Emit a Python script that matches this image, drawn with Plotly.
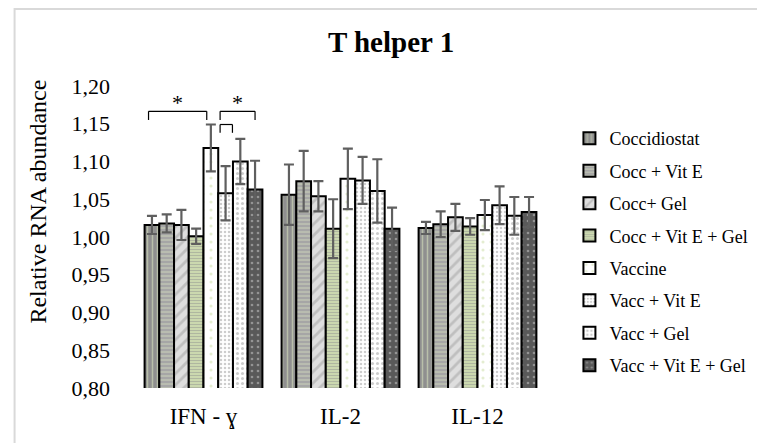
import plotly.graph_objects as go

categories = ["IFN - ɣ", "IL-2", "IL-12"]
series_names = ["Coccidiostat", "Cocc + Vit E", "Cocc+ Gel", "Cocc + Vit E + Gel",
                "Vaccine", "Vacc + Vit E", "Vacc + Gel", "Vacc + Vit E + Gel"]

coccidiostat = [1.016, 1.056, 1.012]
cocc_vite = [1.018, 1.074, 1.017]
cocc_gel = [1.016, 1.054, 1.026]
cocc_vite_gel = [1.001, 1.011, 1.014]
vaccine = [1.118, 1.077, 1.029]
vacc_vite = [1.058, 1.075, 1.042]
vacc_gel = [1.100, 1.061, 1.028]
vacc_vite_gel = [1.063, 1.011, 1.033]

err_coccidiostat = [0.012, 0.040, 0.008]
err_cocc_vite = [0.012, 0.040, 0.017]
err_cocc_gel = [0.020, 0.020, 0.018]
err_cocc_vite_gel = [0.010, 0.039, 0.011]
err_vaccine = [0.031, 0.040, 0.020]
err_vacc_vite = [0.036, 0.031, 0.025]
err_vacc_gel = [0.030, 0.042, 0.025]
err_vacc_vite_gel = [0.038, 0.028, 0.020]

y_ticks = [0.80, 0.85, 0.90, 0.95, 1.00, 1.05, 1.10, 1.15, 1.20]

values = [coccidiostat, cocc_vite, cocc_gel, cocc_vite_gel,
          vaccine, vacc_vite, vacc_gel, vacc_vite_gel]
errors = [err_coccidiostat, err_cocc_vite, err_cocc_gel, err_cocc_vite_gel,
          err_vaccine, err_vacc_vite, err_vacc_gel, err_vacc_vite_gel]

styles = [
    dict(bg="#8f8f8f", fg="#e3efc6", shape="|", size=5, sol=0.3),
    dict(bg="#a6a6a6", fg="#e3efc6", shape="-", size=4, sol=0.3),
    dict(bg="#dedede", fg="#a0a0a0", shape="/", size=8, sol=0.35),
    dict(bg="#d3e2b4", fg="#8c8c8c", shape="-", size=3, sol=0.5),
    dict(bg="#ffffff", fg="#c9dba3", shape=".", size=8, sol=0.12),
    dict(bg="#ffffff", fg="#9a9a9a", shape=".", size=4, sol=0.3),
    dict(bg="#ffffff", fg="#9a9a9a", shape=".", size=5, sol=0.3),
    dict(bg="#595959", fg="#d0d0d0", shape=".", size=6, sol=0.15),
]

FONT = "Liberation Serif, Times New Roman, serif"

fig = go.Figure()
for i, name in enumerate(series_names):
    s = styles[i]
    fig.add_trace(go.Bar(
        x=categories, y=values[i], name=name,
        legendgroup=name,
        marker=dict(color=s["bg"], line=dict(color="#000000", width=2),
                    pattern=dict(shape=s["shape"], fgcolor=s["fg"], bgcolor=s["bg"],
                                 size=s["size"], solidity=s["sol"])),
        error_y=dict(type="data", array=errors[i], color="#5f5f5f", thickness=2.2, width=5),
    ))

# significance brackets (category-index coordinates)
n = len(series_names)
bargap = 0.14
bw = (1 - bargap) / n
def bar_x(cat, k):
    return cat - (1 - bargap) / 2 + bw * (k + 0.5)

brackets = [
    (bar_x(0, 0) - 0.025, bar_x(0, 4) - 0.03, 1.1665, 1.155),
    (bar_x(0, 5) - 0.04, bar_x(0, 7) + 0.0, 1.1665, 1.155),
    (bar_x(0, 5) - 0.04, bar_x(0, 5) + 0.05, 1.149, 1.138),
]
shapes = []
for x0, x1, ytop, ybot in brackets:
    for (a, b, c, d) in [(x0, ybot, x0, ytop), (x0, ytop, x1, ytop), (x1, ytop, x1, ybot)]:
        shapes.append(dict(type="line", xref="x", yref="y", x0=a, y0=b, x1=c, y1=d,
                           line=dict(color="#000000", width=1.2)))
# outer chart border
shapes.append(dict(type="rect", xref="paper", yref="paper", x0=-0.293, x1=2, y0=-1, y1=1.255,
                   line=dict(color="#d9d9d9", width=2), fillcolor="rgba(0,0,0,0)", layer="below"))

annotations = [
    dict(x=(brackets[0][0] + brackets[0][1]) / 2, y=1.1786, xref="x", yref="y", text="*",
         showarrow=False, yanchor="middle", font=dict(family=FONT, size=22, color="#000")),
    dict(x=(brackets[1][0] + brackets[1][1]) / 2, y=1.1786, xref="x", yref="y", text="*",
         showarrow=False, yanchor="middle", font=dict(family=FONT, size=22, color="#000")),
    dict(x=-0.237, y=0.616, xref="paper", yref="paper", text="Relative RNA abundance",
         textangle=-90, showarrow=False, xanchor="center", yanchor="middle",
         font=dict(family=FONT, size=24, color="#000")),
]

fig.update_layout(
    width=757, height=435,
    margin=dict(l=127, r=200, t=78, b=55),
    paper_bgcolor="white", plot_bgcolor="white",
    separators=",.",
    barmode="group", bargap=bargap, bargroupgap=0,
    title=dict(text="<b>T helper 1</b>", x=0.623, xanchor="center", y=0.922, yanchor="middle",
               xref="paper", font=dict(family=FONT, size=29, color="#000")),
    font=dict(family=FONT, color="#000"),
    xaxis=dict(range=[-0.5, 2.5], showline=False, showgrid=False, ticks="",
               ticklabelstandoff=12,
               tickfont=dict(family=FONT, size=23, color="#000")),
    yaxis=dict(range=[0.8, 1.2], tickvals=y_ticks, tickformat=".2f", showgrid=False,
               showline=False, zeroline=False, ticks="", ticklabelstandoff=24,
               tickfont=dict(family=FONT, size=22, color="#000")),
    legend=dict(x=1.057, xanchor="left", y=0.887, yanchor="top",
                traceorder="grouped", tracegroupgap=6,
                font=dict(family=FONT, size=18, color="#000"), itemwidth=30),
    shapes=shapes, annotations=annotations,
    showlegend=True,
)

fig.write_html("out.html")
